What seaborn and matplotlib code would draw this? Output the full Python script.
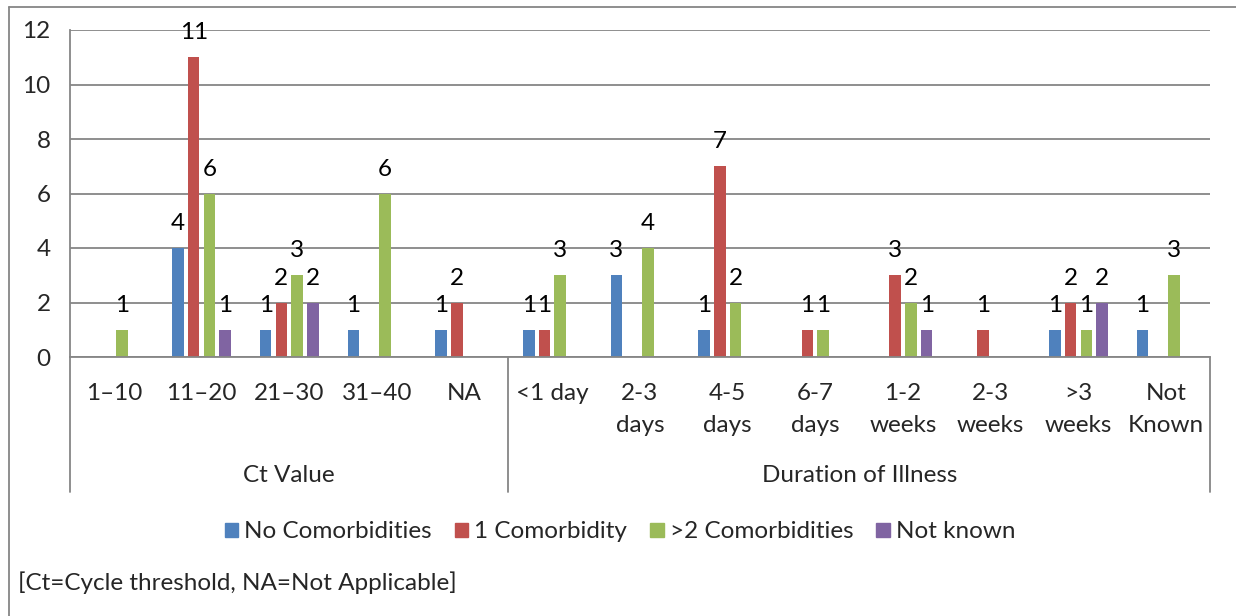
import pandas as pd
import matplotlib.pyplot as plt
import matplotlib.transforms as mtransforms
from matplotlib.lines import Line2D
from matplotlib.patches import Patch
import seaborn as sns

# ================================
# DATA
# ================================
categories = ["1–10", "11–20", "21–30", "31–40", "NA",
              "<1 day", "2-3 days", "4-5 days", "6-7 days",
              "1-2 weeks", "2-3 weeks", ">3 weeks", "Not Known"]
tick_labels = ["1–10", "11–20", "21–30", "31–40", "NA",
               "<1 day", "2-3\ndays", "4-5\ndays", "6-7\ndays",
               "1-2\nweeks", "2-3\nweeks", ">3\nweeks", "Not\nKnown"]
groups = ["Ct Value", "Duration of Illness"]
group_sizes = [5, 8]

series = ["No Comorbidities", "1 Comorbidity", ">2 Comorbidities", "Not known"]
no_comorb   = [0, 4, 1, 1, 1, 1, 3, 1, 0, 0, 0, 1, 1]
one_comorb  = [0, 11, 2, 0, 2, 1, 0, 7, 1, 3, 1, 2, 0]
two_comorb  = [1, 6, 3, 6, 0, 3, 4, 2, 1, 2, 0, 1, 3]
not_known   = [0, 1, 2, 0, 0, 0, 0, 0, 0, 1, 0, 2, 0]

# ================================
# PALETTE (Excel 2007)
# ================================
AZUL  = "#4F81BD"
VERM  = "#C0504D"
VERDE = "#9BBB59"
ROXO  = "#8064A2"
CINZA = "#868686"

rows = []
for name, vals in zip(series, [no_comorb, one_comorb, two_comorb, not_known]):
    for cat, v in zip(categories, vals):
        rows.append({"cat": cat, "serie": name, "n": v})
df = pd.DataFrame(rows)

sns.set_style("white")
plt.rcParams["font.family"] = ["Lato", "DejaVu Sans"]
FS = 17.5

W, H = 1236, 616
fig = plt.figure(figsize=(W / 100, H / 100), dpi=100)
ax = fig.add_axes([70 / W, 1 - 357 / H, 1140 / W, 327 / H])

sns.barplot(data=df, x="cat", y="n", hue="serie", order=categories,
            hue_order=series, palette=[AZUL, VERM, VERDE, ROXO],
            saturation=1, width=0.716, gap=0.26, linewidth=0,
            legend=False, ax=ax)

for cont in ax.containers:
    vals = [b.get_height() for b in cont]
    ax.bar_label(cont, labels=[f"{v:.0f}" if v > 0 else "" for v in vals],
                 padding=10, fontsize=FS, color="black")

ax.set_xlim(-0.5, len(categories) - 0.5)
ax.set_ylim(0, 12)
ax.set_yticks(range(0, 13, 2))
ax.grid(axis="y", color=CINZA, linewidth=1.3)
ax.set_axisbelow(True)
for s in ["top", "right"]:
    ax.spines[s].set_visible(False)
for s in ["left", "bottom"]:
    ax.spines[s].set_color(CINZA)
    ax.spines[s].set_linewidth(1.3)
ax.set_xticks(range(len(categories)), tick_labels)
ax.tick_params(axis="x", length=0, pad=19, labelsize=FS)
ax.tick_params(axis="y", length=0, pad=14, labelsize=FS)
for t in ax.get_xticklabels():
    t.set_linespacing(1.65)
ax.set_xlabel("")
ax.set_ylabel("")

# multi-level category axis
trans = mtransforms.blended_transform_factory(ax.transData, ax.transAxes)
y_low = -(492 - 357) / 327
pos = -0.5
edges = [pos]
for name, size in zip(groups, group_sizes):
    ax.text(pos + size / 2, -(475 - 357) / 327, name, transform=trans,
            ha="center", va="center", fontsize=FS)
    pos += size
    edges.append(pos)
for x in edges:
    ax.add_line(Line2D([x, x], [0, y_low], transform=trans, color=CINZA,
                       linewidth=1.3, clip_on=False))

# legend
handles = [Patch(color=c, label=l) for c, l in zip([AZUL, VERM, VERDE, ROXO], series)]
fig.legend(handles=handles, loc="center", bbox_to_anchor=(620 / W, 1 - 532 / H),
           ncol=4, frameon=False, fontsize=FS, handlelength=0.55, handleheight=0.55,
           handletextpad=0.25, columnspacing=0.95)

fig.text(18 / W, 1 - 583 / H, "[Ct=Cycle threshold, NA=Not Applicable]",
         fontsize=FS, va="center", ha="left")

# outer frame
fig.add_artist(Line2D([9 / W, 9 / W], [0, 1 - 7 / H], color=CINZA, linewidth=1.3))
fig.add_artist(Line2D([9 / W, 1], [1 - 7 / H, 1 - 7 / H], color=CINZA, linewidth=1.3))

fig.savefig("out.png", dpi=100)
